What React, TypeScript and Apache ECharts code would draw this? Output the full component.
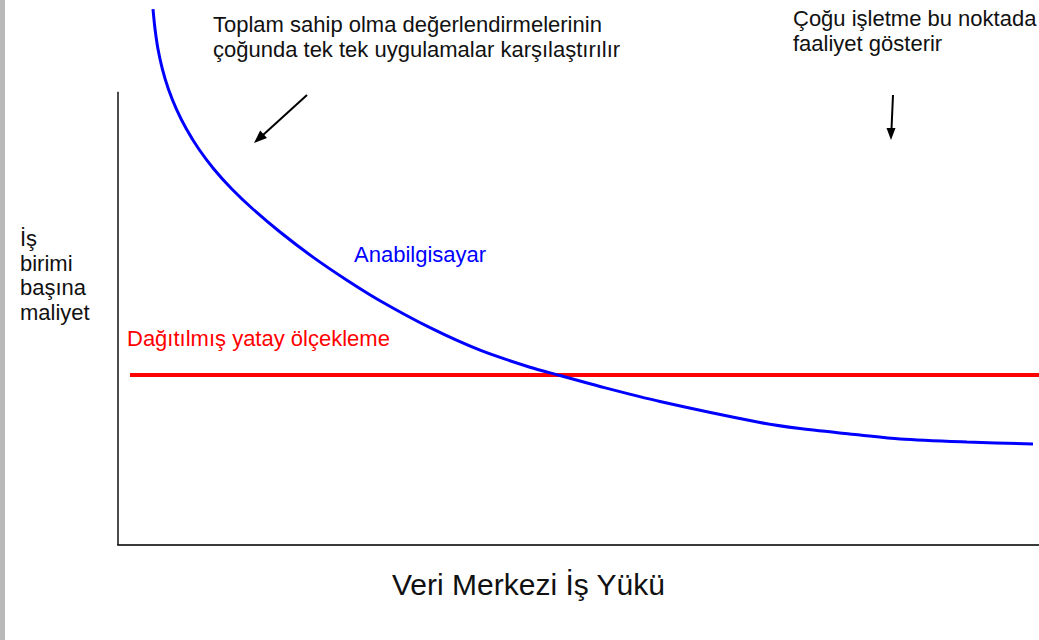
import React, { useEffect, useRef } from "react";
import * as echarts from "echarts";

// Workload (0-100) vs. cost per unit of work (0-100)
const mainframeX = [3.8, 4.02, 4.34, 4.82, 5.47, 6.34, 7.43, 8.77, 10.4, 12.36, 14.64, 17.59, 21.17, 24.86, 28.45, 33.88, 39.31, 44.73, 47.99, 52.33, 58.85, 69.71, 74.05, 80.56, 84.91, 92.18, 99.35];
const mainframeY = [99.81, 96.09, 92.36, 88.64, 84.92, 81.19, 77.47, 73.74, 70.02, 66.29, 62.57, 58.29, 53.61, 49.31, 45.49, 40.47, 36.28, 33.11, 31.56, 29.52, 26.72, 22.81, 21.69, 20.48, 19.74, 19.18, 18.81];
const scaleOutX = [1.3, 100];
const scaleOutY = [31.66, 31.66];
const yAxisTop = 84.4;

const mainframeLabel = "Anabilgisayar";
const scaleOutLabel = "Dağıtılmış yatay ölçekleme";
const xTitle = "Veri Merkezi İş Yükü";
const yTitleLines = ["İş", "birimi", "başına", "maliyet"];
const note1Lines = ["Toplam sahip olma değerlendirmelerinin", "çoğunda tek tek uygulamalar karşılaştırılır"];
const note2Lines = ["Çoğu işletme bu noktada", "faaliyet gösterir"];

const FONT = "Liberation Sans, Arial, sans-serif";

// multi-line text block; firstBaseline = baseline of the first line
function block(lines: string[], x: number, firstBaseline: number, size: number, lh: number, color: string) {
  const mid = firstBaseline - size * 0.34;
  return {
    type: "text",
    x,
    y: mid - lh / 2,
    silent: true,
    style: {
      text: lines.join("\n"),
      fill: color,
      font: `${size}px ${FONT}`,
      lineHeight: lh,
      textAlign: "left",
      textVerticalAlign: "top",
      verticalAlign: "top",
    },
  };
}

export default function App() {
  const ref = useRef<HTMLDivElement>(null);
  useEffect(() => {
    document.body.style.margin = "0";
    if (!ref.current) return;
    const chart = echarts.init(ref.current, undefined, { renderer: "svg" });
    const blue = mainframeX.map((x, i) => [x, mainframeY[i]]);
    const red = scaleOutX.map((x, i) => [x, scaleOutY[i]]);
    const graphics: any[] = [
      { type: "rect", shape: { x: 0, y: 0, width: 5, height: 640 }, style: { fill: "#b9b9b9" }, silent: true },
      block(note1Lines, 213, 32, 22, 24.6, "#111"),
      block(note2Lines, 793, 26, 22, 24.6, "#111"),
      block(yTitleLines, 20, 246, 22, 24.7, "#111"),
      block([mainframeLabel], 354, 262, 22, 22, "#0000ff"),
      block([scaleOutLabel], 127, 346, 22, 22, "#ff0000"),
      block([xTitle], 392, 595, 30, 30, "#111"),
      // arrow 1
      { type: "line", silent: true, shape: { x1: 307, y1: 95, x2: 263, y2: 135 }, style: { stroke: "#000", lineWidth: 2 } },
      { type: "polygon", silent: true, shape: { points: [[254, 143], [267, 138], [260.2, 130.6]] }, style: { fill: "#000" } },
      // arrow 2
      { type: "line", silent: true, shape: { x1: 893, y1: 95, x2: 891.5, y2: 129 }, style: { stroke: "#000", lineWidth: 2 } },
      { type: "polygon", silent: true, shape: { points: [[891, 140], [886.5, 128], [895.5, 128]] }, style: { fill: "#000" } },
    ];
    chart.setOption({
      animation: false,
      backgroundColor: "#ffffff",
      grid: { left: 118, right: 0, top: 8, bottom: 95 },
      xAxis: {
        type: "value",
        min: 0,
        max: 100,
        axisLine: { show: true, onZero: false, lineStyle: { color: "#3a3a3a", width: 2 } },
        axisTick: { show: false },
        axisLabel: { show: false },
        splitLine: { show: false },
      },
      yAxis: { type: "value", min: 0, max: 100, show: false },
      series: [
        {
          type: "line",
          name: scaleOutLabel,
          data: red,
          showSymbol: false,
          lineStyle: { color: "#ff0000", width: 4 },
          markLine: {
            silent: true,
            symbol: ["none", "none"],
            label: { show: false },
            lineStyle: { color: "#111", width: 1.5, type: "solid" },
            data: [[{ coord: [0, 0] }, { coord: [0, yAxisTop] }]],
          },
          z: 2,
        },
        {
          type: "line",
          name: mainframeLabel,
          data: blue,
          smooth: 0.3,
          showSymbol: false,
          lineStyle: { color: "#0000ff", width: 3 },
          z: 3,
        },
      ],
      graphic: graphics,
    });
    return () => chart.dispose();
  }, []);
  return <div ref={ref} style={{ width: 1039, height: 640, background: "#fff" }} />;
}
